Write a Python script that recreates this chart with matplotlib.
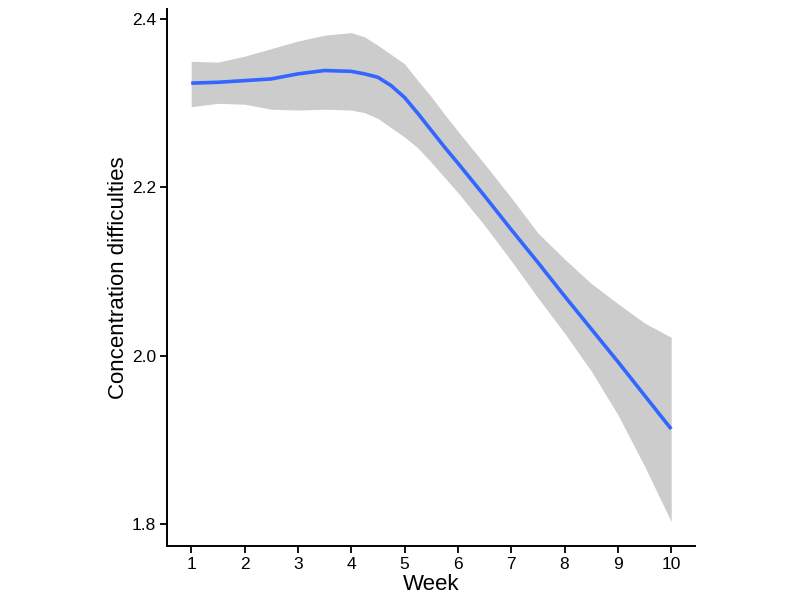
import matplotlib
matplotlib.use('Agg')
import matplotlib.pyplot as plt

plt.rcParams['font.family'] = ['Liberation Sans', 'DejaVu Sans']

# smoothed fit and its band
week = [1, 1.5, 2, 2.5, 3, 3.5, 4, 4.25, 4.5, 4.75, 5, 5.25, 5.5, 5.75, 6,
        6.5, 7, 7.5, 8, 8.5, 9, 9.5, 10]
fit = [2.324, 2.325, 2.327, 2.329, 2.335, 2.339, 2.338, 2.335, 2.331, 2.321,
       2.307, 2.288, 2.268, 2.248, 2.229, 2.190, 2.150, 2.111, 2.071, 2.032,
       1.993, 1.953, 1.913]
lower = [2.296, 2.300, 2.299, 2.293, 2.292, 2.293, 2.292, 2.289, 2.282, 2.271,
         2.260, 2.247, 2.230, 2.212, 2.194, 2.155, 2.113, 2.069, 2.027, 1.982,
         1.930, 1.869, 1.803]
upper = [2.350, 2.349, 2.356, 2.365, 2.374, 2.381, 2.384, 2.379, 2.369, 2.358,
         2.347, 2.327, 2.308, 2.287, 2.267, 2.228, 2.188, 2.146, 2.115, 2.086,
         2.062, 2.039, 2.022]

xticks = [1, 2, 3, 4, 5, 6, 7, 8, 9, 10]
yticks = [1.8, 2.0, 2.2, 2.4]

fig = plt.figure(figsize=(8, 6.05), dpi=100)
ax = fig.add_axes([0.209, 0.0975, 0.66, 0.8875])

ax.fill_between(week, lower, upper, color='#cccccc', linewidth=0)
ax.plot(week, fit, color='#3366FF', linewidth=2.6,
        solid_capstyle='butt', solid_joinstyle='round')

ax.set_xlim(0.55, 10.45)
ax.set_ylim(1.774, 2.412)
ax.set_xticks(xticks)
ax.set_xticklabels([str(t) for t in xticks])
ax.set_yticks(yticks)
ax.set_yticklabels(['{:.1f}'.format(t) for t in yticks])

for side in ['top', 'right']:
    ax.spines[side].set_visible(False)
for side in ['left', 'bottom']:
    ax.spines[side].set_linewidth(1.4)
    ax.spines[side].set_color('black')

ax.tick_params(axis='both', length=5, width=1.3, colors='black', labelsize=12.5, pad=3)

ax.set_xlabel('Week', fontsize=16, labelpad=1)
ax.set_ylabel('Concentration difficulties', fontsize=16, labelpad=2)

fig.savefig('out.png', dpi=100)
